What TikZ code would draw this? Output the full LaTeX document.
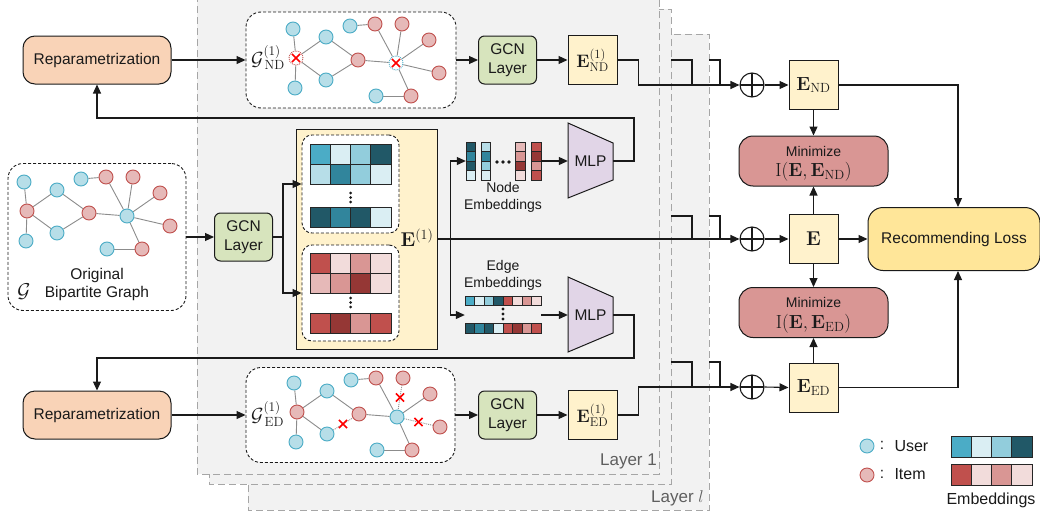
\RequirePackage{fix-cm}
\documentclass[tikz,border=0pt]{standalone}
\usepackage[no-math]{fontspec}
\setmainfont{Liberation Sans}
\usetikzlibrary{arrows.meta,shapes.misc,calc}
\pgfdeclarelayer{panel}
\pgfdeclarelayer{edges}
\pgfsetlayers{panel,edges,main}
\definecolor{b1}{HTML}{4BACC6}
\definecolor{b2}{HTML}{DAEEF3}
\definecolor{b3}{HTML}{92CDDC}
\definecolor{b4}{HTML}{215867}
\definecolor{b5}{HTML}{B7DEE8}
\definecolor{b6}{HTML}{31859C}
\definecolor{r1}{HTML}{C0504D}
\definecolor{r2}{HTML}{F2DCDB}
\definecolor{r3}{HTML}{D99694}
\definecolor{r4}{HTML}{E6B9B8}
\definecolor{r5}{HTML}{953735}
\definecolor{linec}{HTML}{1A1A1A}
\definecolor{txt}{HTML}{1A1A1A}
\definecolor{panelgray}{HTML}{F2F2F2}
\definecolor{panelline}{HTML}{A6A6A6}
\definecolor{repc}{HTML}{F9D3B7}
\definecolor{gcnc}{HTML}{D7E4BD}
\definecolor{ec}{HTML}{FFF2CC}
\definecolor{minc}{HTML}{D99694}
\definecolor{rlc}{HTML}{FFE699}
\definecolor{mlpc}{HTML}{E1D5E7}
\definecolor{celld}{HTML}{262626}
\definecolor{gline}{HTML}{8C8C8C}
\definecolor{layertxt}{HTML}{5F5F5F}

\newcommand\hcells[5]{%
  \foreach \cc [count=\ii from 0] in {#5}{%
    \filldraw[cell,fill=\cc] ({#1+\ii*#3},{#2}) rectangle ++(#3,#4);}}
\newcommand\vcells[5]{%
  \foreach \cc [count=\ii from 0] in {#5}{%
    \filldraw[cell,fill=\cc] ({#1},{#2+\ii*#4}) rectangle ++(#3,#4);}}

\newcommand\bgnodes[1]{%
  \node[unode,#1u1/.try] (#1u1) at (-3,-29) {};
  \node[inode,#1i1/.try] (#1i1) at (0,0) {};
  \node[unode,#1u2/.try] (#1u2) at (-1,30) {};
  \node[unode,#1u3/.try] (#1u3) at (30,-21) {};
  \node[unode,#1u4/.try] (#1u4) at (30,22) {};
  \node[inode,#1i2/.try] (#1i2) at (62,2) {};
  \node[unode,#1u5/.try] (#1u5) at (54,-32) {};
  \node[inode,#1i3/.try] (#1i3) at (79,-34) {};
  \node[inode,#1i4/.try] (#1i4) at (106,-34) {};
  \node[inode,#1i5/.try] (#1i5) at (133,-18) {};
  \node[unode,#1u6/.try] (#1u6) at (100,5) {};
  \node[inode,#1i6/.try] (#1i6) at (143,15) {};
  \node[unode,#1u7/.try] (#1u7) at (80,38) {};
  \node[inode,#1i7/.try] (#1i7) at (115,38) {};
}
\newcommand\bgedges[1]{%
  \draw[gedge,#1e1/.try] (#1i1) -- (#1u1);
  \draw[gedge,#1e2/.try] (#1i1) -- (#1u2);
  \draw[gedge,#1e3/.try] (#1i1) -- (#1u3);
  \draw[gedge,#1e4/.try] (#1i1) -- (#1u4);
  \draw[gedge,#1e5/.try] (#1u3) -- (#1i2);
  \draw[gedge,#1e6/.try] (#1u4) -- (#1i2);
  \draw[gedge,#1e7/.try] (#1i2) -- (#1u6);
  \draw[gedge,#1e8/.try] (#1u5) -- (#1i3);
  \draw[gedge,#1e9/.try] (#1i3) -- (#1u6);
  \draw[gedge,#1e10/.try] (#1i4) -- (#1u6);
  \draw[gedge,#1e11/.try] (#1i5) -- (#1u6);
  \draw[gedge,#1e12/.try] (#1i6) -- (#1u6);
  \draw[gedge,#1e13/.try] (#1u6) -- (#1i7);
  \draw[gedge,#1e14/.try] (#1u7) -- (#1i7);
}

\begin{document}
\begin{tikzpicture}[x=1pt,y=-1pt,
  every node/.style={text=txt},
  font=\fontsize{15.5}{18}\selectfont,
  panelbox/.style={fill=panelgray, draw=panelline, line width=1pt, dash pattern=on 7pt off 4pt},
  gbox/.style={draw=linec, fill=white, rounded corners=15pt, line width=0.9pt, dash pattern=on 3pt off 2pt, inner sep=0},
  rep/.style={draw=linec, fill=repc, rounded corners=12pt, line width=1pt, minimum width=148pt, minimum height=48pt, inner sep=0},
  gcn/.style={draw=linec, fill=gcnc, rounded corners=6pt, line width=1pt, minimum width=58pt, minimum height=48pt, align=center, inner sep=0, font=\fontsize{15.5}{19}\selectfont},
  ebox/.style={draw=linec, fill=ec, line width=1pt, minimum width=49pt, minimum height=49pt, inner sep=0},
  minbox/.style={draw=linec, fill=minc, rounded corners=14pt, line width=1pt, minimum width=149pt, minimum height=50pt, inner sep=0},
  arr/.style={line width=1.1pt, draw=linec, -{Triangle[length=9pt,width=8pt]}},
  ln/.style={line width=1.1pt, draw=linec},
  cell/.style={draw=celld, line width=0.9pt},
  mlps/.style={draw=linec, fill=mlpc, line width=1pt},
  unode/.style={circle, fill=b5, draw=b1, line width=0.9pt, minimum size=14pt, inner sep=0},
  inode/.style={circle, fill=r4, draw=r1, line width=0.9pt, minimum size=14pt, inner sep=0},
  gedge/.style={draw=gline, line width=0.9pt},
  xmark/.style={cross out, draw=red, line width=1.6pt, minimum size=6.5pt, inner sep=0},
  oplus/.style={circle, draw=linec, minimum size=24pt, inner sep=0, line width=1.1pt,
    path picture={\draw[line width=1.1pt, linec] (path picture bounding box.north) -- (path picture bounding box.south) (path picture bounding box.west) -- (path picture bounding box.east);}},
  dotc/.style={fill=linec},
  ndi1/.style={fill=white, draw=r1, densely dotted},
  ndu6/.style={fill=white, draw=b1, densely dotted},
  ede6/.style={densely dotted},
  ede10/.style={densely dotted},
  ede12/.style={densely dotted},
  ltxt/.style={text=layertxt, font=\fontsize{17}{20}\selectfont, inner sep=0}
]
\useasboundingbox (0,0) rectangle (1040,514);

% ---------- panels and graph boxes ----------
\begin{pgfonlayer}{panel}
  \path[panelbox] (248,34) rectangle (709,510);
  \path[panelbox] (209,9) rectangle (671,484);
  \path[panelbox] (197,-5) rectangle (659,474);
  \node[gbox, minimum width=210pt, minimum height=96pt] (gnd) at (351,60) {};
  \node[gbox, minimum width=209pt, minimum height=95pt] (ged) at (350.5,415) {};
  \node[gbox, minimum width=178pt, minimum height=147pt] (orig) at (97,237) {};
\end{pgfonlayer}

\node[ltxt, anchor=east] (l1) at (657,461) {Layer 1};
\node[ltxt, anchor=east] (ll) at (704,498) {Layer $l$};

% ---------- graphs ----------
\begin{scope}[shift={(27,211)}] \bgnodes{og} \end{scope}
\begin{scope}[shift={(296,58)}] \bgnodes{nd} \end{scope}
\begin{scope}[shift={(297,412)}] \bgnodes{ed} \end{scope}
\begin{pgfonlayer}{edges}
  \bgedges{og}
  \bgedges{nd}
  \bgedges{ed}
\end{pgfonlayer}
\node[xmark] (ndx1) at (ndi1) {};
\node[xmark] (ndx2) at (ndu6) {};
\path (edu4) -- node[xmark] (edx1) {} (edi2);
\path (edi4) -- node[xmark] (edx2) {} (edu6);
\path (edi6) -- node[xmark] (edx3) {} (edu6);

\node[font=\fontsize{19}{21}\selectfont, anchor=west, inner sep=0] (gndl) at (251,58) {$\mathcal{G}^{(1)}_{\mkern3mu\mathrm{ND}}$};
\node[font=\fontsize{19}{21}\selectfont, anchor=west, inner sep=0] (gedl) at (251,414) {$\mathcal{G}^{(1)}_{\mkern3mu\mathrm{ED}}$};
\node[align=center, font=\fontsize{15.5}{18}\selectfont] (origt) at (97,284) {Original\\Bipartite Graph};
\node[font=\fontsize{20}{22}\selectfont] (origg) at (24,292) {$\mathcal{G}$};

% ---------- boxes ----------
\node[rep] (rp1) at (97,60) {Reparametrization};
\node[rep] (rp2) at (97,415) {Reparametrization};
\node[gcn] (gcn1) at (507.5,60) {GCN\\Layer};
\node[gcn] (gcn2) at (243.5,237) {GCN\\Layer};
\node[gcn] (gcn3) at (507.5,415) {GCN\\Layer};
\node[ebox, font=\fontsize{18}{20}\selectfont] (end1) at (592.5,60) {$\mathbf{E}^{(1)}_{\mathrm{ND}}$};
\node[ebox, font=\fontsize{18}{20}\selectfont] (eed1) at (592.5,415) {$\mathbf{E}^{(1)}_{\mathrm{ED}}$};

% big E(1) box
\node[draw=linec, fill=ec, line width=1pt, minimum width=141pt, minimum height=220pt, inner sep=0] (ebig) at (366.5,239) {};
\node[gbox, rounded corners=10pt, minimum width=97pt, minimum height=98pt] (bbox) at (350.5,184) {};
\node[gbox, rounded corners=10pt, minimum width=97pt, minimum height=96pt] (rbox) at (350.5,293) {};
\node[font=\fontsize{20}{22}\selectfont] (elab) at (417,238) {$\mathbf{E}^{(1)}$};
\hcells{310}{144}{20.25}{20}{b1,b2,b3,b4}
\hcells{310}{164}{20.25}{20}{b5,b6,b3,b2}
\hcells{310}{207}{20.25}{20}{b4,b6,b4,b2}
\hcells{310}{253}{20.25}{20}{r1,r2,r3,r2}
\hcells{310}{273}{20.25}{20}{r4,r3,r5,r2}
\hcells{310}{313}{20.25}{20}{r1,r5,r3,r1}
\foreach \yy in {193,197.5,202} {\fill[dotc] (350.5,\yy) circle (1.5pt);}
\foreach \yy in {298,302.5,307} {\fill[dotc] (350.5,\yy) circle (1.5pt);}

% node embeddings
\vcells{466}{142}{9.5}{9.5}{b4,b6,b4,b2}
\vcells{481}{142}{9.5}{9.5}{b5,b6,b3,b2}
\vcells{515.5}{142}{9.5}{9.5}{r4,r3,r5,r2}
\vcells{531.5}{142}{9.5}{9.5}{r1,r5,r3,r1}
\foreach \xx in {497,503,509} {\fill[dotc] (\xx,162) circle (1.8pt);}
\node[minimum width=75pt, minimum height=38pt, inner sep=0] (nemb) at (503.5,161) {};
\node[align=center, font=\fontsize{14}{17}\selectfont] (nembt) at (503,197.5) {Node\\Embeddings};

% edge embeddings
\hcells{465}{296}{9.5}{9.5}{b1,b2,b3,b4,r1,r2,r3,r2}
\hcells{465}{323.5}{9.5}{9.5}{b4,b6,b4,b2,r1,r5,r3,r1}
\foreach \yy in {309,314,319} {\fill[dotc] (503,\yy) circle (1.6pt);}
\node[minimum width=76pt, minimum height=37pt, inner sep=0] (eemb) at (503,315) {};
\node[align=center, font=\fontsize{14}{17}\selectfont] (eembt) at (503,275.5) {Edge\\Embeddings};

% MLPs
\filldraw[mlps] (568,123) -- (613,143) -- (613,180) -- (568,198) -- cycle;
\node[minimum width=45pt, minimum height=37pt, inner sep=0] (mlp1) at (590.5,161) {MLP};
\filldraw[mlps] (568,277) -- (613,297) -- (613,333) -- (568,352) -- cycle;
\node[minimum width=45pt, minimum height=36pt, inner sep=0] (mlp2) at (590.5,315) {MLP};

% right side
\node[oplus] (op1) at (752,85) {};
\node[oplus] (op2) at (752,239) {};
\node[oplus] (op3) at (752,387) {};
\node[ebox, font=\fontsize{19}{21}\selectfont] (end) at (813.5,85) {$\mathbf{E}_{\mathrm{ND}}$};
\node[ebox, font=\fontsize{20}{22}\selectfont] (eall) at (813.5,239) {$\mathbf{E}$};
\node[ebox, font=\fontsize{19}{21}\selectfont] (eed) at (813.5,387.5) {$\mathbf{E}_{\mathrm{ED}}$};
\node[minbox] (mnd) at (813.5,161) {};
\node[font=\fontsize{14}{16}\selectfont] (mndt) at (813.5,151) {Minimize};
\node[font=\fontsize{19}{21}\selectfont] (mndf) at (813.5,172) {$\mathrm{I}(\mathbf{E},\mathbf{E}_{\mathrm{ND}})$};
\node[minbox] (med) at (813.5,312.5) {};
\node[font=\fontsize{14}{16}\selectfont] (medt) at (813.5,302.5) {Minimize};
\node[font=\fontsize{19}{21}\selectfont] (medf) at (813.5,323.5) {$\mathrm{I}(\mathbf{E},\mathbf{E}_{\mathrm{ED}})$};
\node[draw=linec, fill=rlc, rounded corners=15pt, line width=1pt, minimum width=172pt, minimum height=63pt, inner sep=0, font=\fontsize{15.5}{18}\selectfont] (rl) at (954,239) {Recommending Loss};

% legend
\node[unode] (lu) at (867,446) {};
\node[inode] (li) at (867,475) {};
\node (luc) at (882,445) {:};
\node (lic) at (882,474) {:};
\node[anchor=west, font=\fontsize{16}{18}\selectfont] (lut) at (891,446) {User};
\node[anchor=west, font=\fontsize{16}{18}\selectfont] (lit) at (891,474) {Item};
\hcells{951}{436}{20.25}{21}{b1,b2,b3,b4}
\hcells{951}{464}{20.25}{21}{r1,r2,r3,r2}
\node[font=\fontsize{16}{18}\selectfont] (lemb) at (991,500) {Embeddings};

% ---------- coordinates ----------
\coordinate (fb1) at (634,118);
\coordinate (fb2) at (634,358);
\coordinate (s1a) at (671,60);  \coordinate (s1b) at (692,85);
\coordinate (s2a) at (709,60);  \coordinate (s2b) at (720,85);
\coordinate (s3a) at (671,216); \coordinate (s3b) at (692,239);
\coordinate (s4a) at (709,216); \coordinate (s4b) at (720,239);
\coordinate (s5a) at (671,362); \coordinate (s5b) at (692,387);
\coordinate (s6a) at (709,362); \coordinate (s6b) at (720,387);

% ---------- connectors ----------
\draw[arr] (rp1.east) -- (gnd.west);
\draw[arr] (gnd.east) -- (gcn1.west);
\draw[arr] (gcn1.east) -- (end1.west);
\draw[arr] (end1.east) -- ++(21,0) |- (op1.west);
\draw[ln] (s1a) -| (s1b);
\draw[ln] (s2a) -| (s2b);
\draw[arr] (op1.east) -- (end.west);
\draw[arr] (end.south) -- (mnd.north);
\draw[arr] (end.east) -| ([xshift=4pt]rl.north);

\draw[arr] (orig.east) -- (gcn2.west);
\draw[ln] (gcn2.east) -- ++(10,0) coordinate (br1);
\draw[arr] (br1) |- (bbox.west);
\draw[arr] (br1) |- (rbox.west);
\draw[arr] (ebig.east) -- (op2.west);
\coordinate (br2) at ($(ebig.east)+(13,0)$);
\draw[arr] (br2) |- (nemb.west);
\draw[arr] (br2) |- (eemb.west);
\draw[arr] (nemb.east) -- (mlp1.west);
\draw[arr] (eemb.east) -- (mlp2.west);
\draw[arr] (mlp1.east) -| (fb1) -| (rp1.south);
\draw[arr] (mlp2.east) -| (fb2) -| (rp2.north);
\draw[ln] (s3a) -| (s3b);
\draw[ln] (s4a) -| (s4b);
\draw[arr] (op2.east) -- (eall.west);
\draw[arr] (eall.north) -- (mnd.south);
\draw[arr] (eall.south) -- (med.north);
\draw[arr] (eall.east) -- (rl.west);

\draw[arr] (rp2.east) -- (ged.west);
\draw[arr] (ged.east) -- (gcn3.west);
\draw[arr] (gcn3.east) -- (eed1.west);
\draw[arr] (eed1.east) -- ++(21,0) |- (op3.west);
\draw[ln] (s5a) -| (s5b);
\draw[ln] (s6a) -| (s6b);
\draw[arr] (op3.east) -- (eed.west);
\draw[arr] (eed.north) -- (med.south);
\draw[arr] (eed.east) -| ([xshift=4pt]rl.south);
\end{tikzpicture}
\end{document}
